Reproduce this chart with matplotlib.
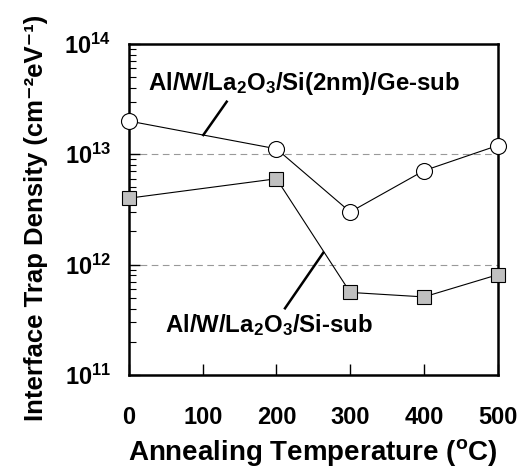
import matplotlib
matplotlib.use("Agg")
import matplotlib.pyplot as plt
from matplotlib.ticker import LogLocator, FixedLocator

plt.rcParams['font.family'] = ['Liberation Sans', 'DejaVu Sans']
plt.rcParams['font.weight'] = 'bold'
plt.rcParams['mathtext.fontset'] = 'custom'
plt.rcParams['mathtext.rm'] = 'Liberation Sans:bold'
plt.rcParams['mathtext.bf'] = 'Liberation Sans:bold'
plt.rcParams['mathtext.it'] = 'Liberation Sans:bold'
plt.rcParams['mathtext.default'] = 'bf'

# data
temp = [0, 200, 300, 400, 500]
dit_ge = [2.0e13, 1.12e13, 3.0e12, 7.1e12, 1.2e13]
dit_si = [4.0e12, 6.0e12, 5.6e11, 5.1e11, 8.1e11]
xticks = [0, 100, 200, 300, 400, 500]
yticks = [1e11, 1e12, 1e13, 1e14]
label_ge = r'Al/W/La$_2$O$_3$/Si(2nm)/Ge-sub'
label_si = r'Al/W/La$_2$O$_3$/Si-sub'

fig = plt.figure(figsize=(5.3, 4.67), dpi=100)
ax = fig.add_axes([0.2434, 0.197, 0.6956, 0.709])

ax.set_yscale('log')
ax.set_xlim(0, 500)
ax.set_ylim(1e11, 1e14)

# dashed guide lines
for g in [1e12, 1e13]:
    ax.axhline(g, color='#999999', ls=(0, (6, 4)), lw=0.8, zorder=1)

ax.plot(temp, dit_ge, '-', color='black', lw=0.8, marker='o', ms=11.5,
        mfc='white', mec='black', mew=0.8, clip_on=False, zorder=5)
ax.plot(temp, dit_si, '-', color='black', lw=0.8, marker='s', ms=9.5,
        mfc='#c0c0c0', mec='black', mew=0.8, clip_on=False, zorder=5)

# labels with leader lines
ax.text(0.052, 0.88, label_ge, transform=ax.transAxes, fontsize=17.3,
        fontweight='bold', va='center', ha='left')
ax.text(0.098, 0.151, label_si, transform=ax.transAxes, fontsize=17.3,
        fontweight='bold', va='center', ha='left')
inv = ax.transData.inverted()
def px(x, y):
    # figure pixel (from top-left) -> data coords
    return inv.transform((x, 467 - y))
p1, p2 = px(226.7, 101.7), px(203.3, 135)
ax.plot([p1[0], p2[0]], [p1[1], p2[1]], color='black', lw=1.8, zorder=6)
p1, p2 = px(285, 308.3), px(323.3, 252.7)
ax.plot([p1[0], p2[0]], [p1[1], p2[1]], color='black', lw=1.8, zorder=6)

ax.set_xticks(xticks)
ax.set_xticklabels([str(t) for t in xticks])
ax.yaxis.set_major_locator(FixedLocator(yticks))
ax.set_yticklabels([r'$10^{%d}$' % e for e in [11, 12, 13, 14]])
ax.yaxis.set_minor_locator(LogLocator(base=10, subs=range(2, 10)))
ax.tick_params(which='major', direction='in', length=8, width=1, labelsize=17, pad=13)
ax.tick_params(which='minor', direction='in', length=5, width=0.8)
ax.tick_params(axis='x', pad=22)
for lab in ax.get_xticklabels() + ax.get_yticklabels():
    lab.set_fontweight('bold')

for s in ax.spines.values():
    s.set_linewidth(1.8)

ax.set_xlabel(r'Annealing Temperature ($^{o}$C)', fontsize=20, fontweight='bold', labelpad=6)
ax.set_ylabel('Interface Trap Density (cm⁻²eV⁻¹)', fontsize=18.5, fontweight='bold')
ax.yaxis.set_label_coords(-0.22, 0.474)

fig.savefig('out.png', dpi=100)
